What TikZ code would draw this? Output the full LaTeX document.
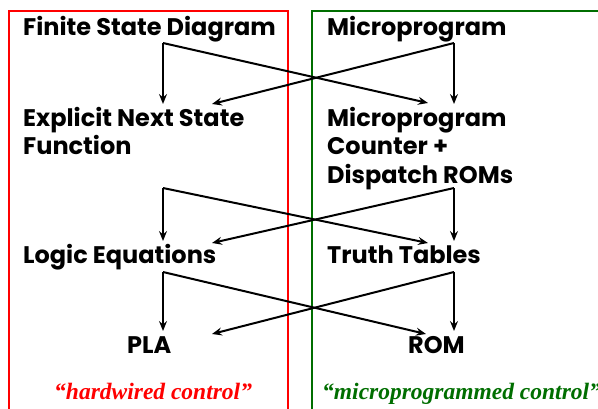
\documentclass[tikz,border=0pt]{standalone}
\usepackage{fontspec}
\setmainfont{Poppins}
\newfontfamily\quotefont{Liberation Serif}
\usetikzlibrary{arrows.meta}
\definecolor{hwred}{RGB}{255,0,0}
\definecolor{mpgreen}{RGB}{0,110,0}
\tikzset{
  lbl/.style={anchor=base west, inner sep=0pt, font=\fontsize{24}{28.5}\selectfont\bfseries, align=left},
  captext/.style={anchor=base west, inner sep=0pt, font=\fontsize{23.5}{24}\selectfont\quotefont\bfseries\itshape},
  flow/.style={line width=2pt, -{Stealth[length=10pt,width=8pt,inset=3.5pt]}},
  frame/.style={line width=2pt}
}
\begin{document}
\begin{tikzpicture}[x=1pt,y=-1pt]
\useasboundingbox (0,0) rectangle (598,408);
% column frames (open at the bottom)
\draw[frame, hwred] (9,420) -- (9,11) -- (288,11) -- (288,420);
\draw[frame, mpgreen] (312,420) -- (312,11) -- (610,11);

% level 1
\node[lbl] (fsd) at (23,35) {Finite State Diagram};
\node[lbl] (mp) at (327,35) {Microprogram};
% level 2
\node[lbl, anchor=north west] (ens) at (23,107) {Explicit Next State\\Function};
\node[lbl, anchor=north west] (mpc) at (327,107) {Microprogram\\Counter +\\Dispatch ROMs};
% level 3
\node[lbl] (le) at (23,263) {Logic Equations};
\node[lbl] (tt) at (327,263) {Truth Tables};
% level 4
\node[lbl] (pla) at (127,353) {PLA};
\node[lbl] (rom) at (408,353) {ROM};

% captions
\node[captext, text=hwred] (hw) at (54,399) {“hardwired control”};
\node[captext, text=mpgreen] (mc) at (322,399) {“microprogrammed control”};

% branch points and arrow ends
\coordinate (b1l) at (163,43);  \coordinate (b1r) at (454,43);
\coordinate (e1l) at (163,104); \coordinate (e1r) at (454,104);
\coordinate (x1l) at (212,104); \coordinate (x1r) at (428,103);
\coordinate (b2l) at (163,188); \coordinate (b2r) at (454,188);
\coordinate (e2l) at (163,241); \coordinate (e2r) at (454,241);
\coordinate (x2l) at (212,243); \coordinate (x2r) at (428,243);
\coordinate (b3l) at (163,272); \coordinate (b3r) at (454,272);
\coordinate (e3l) at (163,331); \coordinate (e3r) at (454,331);
\coordinate (x3l) at (212,334); \coordinate (x3r) at (426,334);

% level 1 -> level 2
\draw[flow] (b1l) -- (e1l);
\draw[flow] (b1l) -- (x1r);
\draw[flow] (b1r) -- (e1r);
\draw[flow] (b1r) -- (x1l);
% level 2 -> level 3
\draw[flow] (b2l) -- (e2l);
\draw[flow] (b2l) -- (x2r);
\draw[flow] (b2r) -- (e2r);
\draw[flow] (b2r) -- (x2l);
% level 3 -> level 4
\draw[flow] (b3l) -- (e3l);
\draw[flow] (b3l) -- (x3r);
\draw[flow] (b3r) -- (e3r);
\draw[flow] (b3r) -- (x3l);
\end{tikzpicture}
\end{document}
